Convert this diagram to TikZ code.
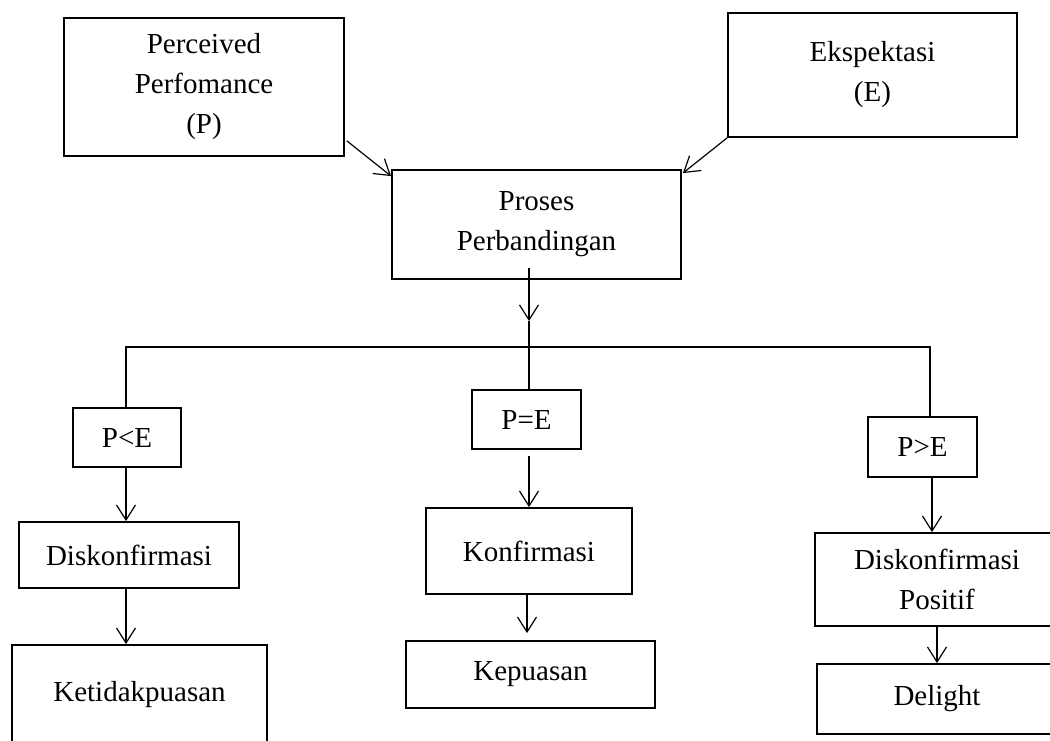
\documentclass[tikz,border=0pt]{standalone}
\usepackage{fontspec}
\setmainfont{Liberation Serif}
\usetikzlibrary{arrows.meta,calc}
\begin{document}
\begin{tikzpicture}[x=1pt,y=-1pt,
  box/.style={draw, line width=1.8pt, inner sep=0pt, align=center,
    font=\fontsize{29}{40}\selectfont},
  conn/.style={line width=1.2pt},
  arr/.style={conn, -{Straight Barb[length=15pt,width=19pt,line width=1.2pt]}}]
\useasboundingbox (0,0) rectangle (1050,740);
\clip (0,0) rectangle (1050,740);

% upper inputs and comparison
\node[box, minimum width=280pt, minimum height=138pt] (perf) at (204,87) {Perceived\\Perfomance\\(P)};
\node[box, minimum width=289pt, minimum height=124pt] (eks) at (872.5,75) {Ekspektasi\\(E)};
\node[box, minimum width=289pt, minimum height=109pt] (proc) at (536.5,224.5) {Proses\\Perbandingan};

% conditions
\node[box, minimum width=108pt, minimum height=59pt] (lt) at (127,437.5) {P<E};
\node[box, minimum width=109pt, minimum height=59pt] (peq) at (526.5,419.5) {P=E};
\node[box, minimum width=109pt, minimum height=60pt] (gt) at (922.5,447) {P>E};

% outcomes
\node[box, minimum width=220pt, minimum height=66pt] (dn) at (129,555) {Diskonfirmasi};
\node[box, minimum width=255pt, minimum height=100pt] (kt) at (139.5,695) {Ketidakpuasan};
\node[box, minimum width=206pt, minimum height=86pt] (kon) at (529,551) {Konfirmasi};
\node[box, minimum width=249pt, minimum height=67pt] (kep) at (530.5,674.5) {Kepuasan};
\node[box, minimum width=244pt, minimum height=93pt] (dp) at (937,579.5) {Diskonfirmasi\\Positif};
\node[box, minimum width=240pt, minimum height=70pt] (dl) at (937,699) {Delight};

% branching rail
\coordinate (mid) at (529,321);
\coordinate (bl) at (126,347);
\coordinate (br) at (930,347);

% inputs into the comparison
\draw[arr] ([xshift=2pt,yshift=16pt]perf.south east) -- ([yshift=-7pt]proc.north west);
\draw[arr] (eks.south west) -- ([xshift=1pt,yshift=-4pt]proc.north east);

% comparison down to the rail
\draw[arr] ([yshift=12pt]proc.south -| mid) -- (mid);
\draw[conn] (mid) -- (peq.north -| mid);
\draw[conn] (lt.north -| bl) -- (bl) -- (br) -- (gt.north -| br);

% left branch
\draw[arr] (lt.south -| bl) -- (dn.north -| bl);
\draw[arr] (dn.south -| bl) -- (kt.north -| bl);

% middle branch
\draw[arr] ([yshift=-6pt]peq.south -| mid) -- (kon.north -| mid);
\draw[arr] ([xshift=-2pt]kon.south) -- ([xshift=-3.5pt,yshift=7pt]kep.north);

% right branch
\draw[arr] ([xshift=9.5pt]gt.south) -- ([xshift=9.5pt]gt.south |- dp.north);
\draw[arr] (dp.south) -- (dl.north);
\end{tikzpicture}
\end{document}
